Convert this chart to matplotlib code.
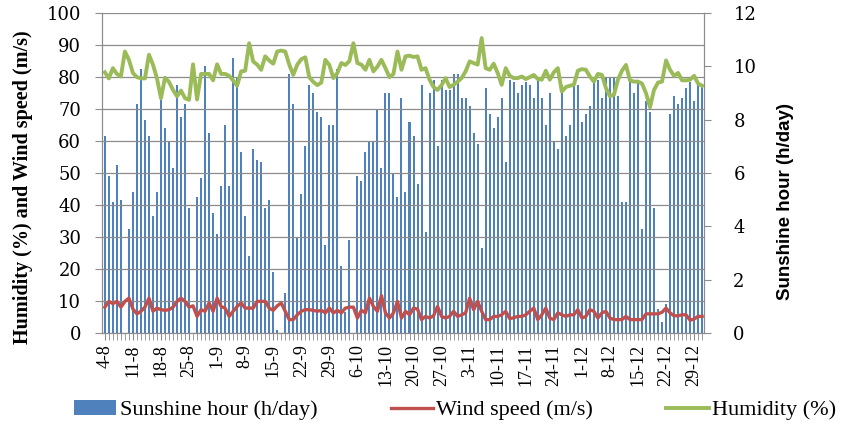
import matplotlib
matplotlib.use("Agg")
import matplotlib.pyplot as plt
from matplotlib.ticker import MultipleLocator

# daily values, 4 Aug -> 31 Dec
sunshine = [
    7.4, 5.9, 4.9, 6.3, 5.0, 0.0, 3.9, 5.3, 8.6, 9.9,
    8.0, 7.4, 4.4, 5.3, 8.75, 7.7, 7.2, 6.2, 9.3, 8.1,
    8.6, 4.7, 0.0, 5.1, 5.8, 10.0, 7.5, 4.5, 3.7, 5.5,
    7.8, 5.5, 10.3, 9.6, 6.8, 4.4, 2.9, 6.9, 6.5, 6.4,
    4.7, 5.0, 2.3, 0.1, 0.0, 1.5, 9.7, 8.6, 3.6, 5.2,
    7.0, 9.3, 9.0, 8.3, 8.1, 3.3, 7.8, 7.8, 9.9, 2.5,
    0.8, 3.5, 0.0, 5.9, 5.7, 6.8, 7.2, 7.2, 8.4, 6.2,
    9.0, 9.0, 6.0, 5.1, 8.8, 5.3, 7.9, 7.4, 5.6, 9.3,
    3.8, 9.0, 9.5, 7.0, 9.5, 9.1, 9.1, 9.7, 9.7, 8.8,
    8.8, 8.5, 7.5, 7.1, 3.2, 9.2, 8.2, 7.7, 8.1, 8.8,
    6.4, 9.5, 9.4, 9.0, 9.3, 9.4, 9.3, 8.8, 9.6, 8.8,
    7.8, 9.0, 7.2, 6.9, 9.3, 7.4, 7.8, 9.3, 9.3, 7.9,
    8.2, 8.5, 9.5, 9.5, 8.8, 9.6, 9.6, 9.6, 8.9, 4.9,
    4.9, 9.4, 9.0, 9.5, 3.9, 8.7, 8.3, 4.7, 0.9, 0.4,
    1.1, 8.2, 8.9, 8.6, 8.8, 9.2, 9.4, 8.7, 9.3, 9.3,
]

humidity = [
    81.5, 79.6, 82.8, 81.0, 80.2, 88.0, 85.4, 81.3, 80.0, 79.6,
    79.6, 87.0, 83.9, 79.6, 73.4, 79.8, 78.5, 76.0, 74.0, 75.8,
    73.4, 72.9, 84.0, 73.0, 81.0, 81.0, 81.0, 79.0, 84.0, 81.0,
    81.0, 80.4, 79.0, 77.3, 81.8, 82.0, 90.6, 84.9, 83.9, 82.3,
    86.5, 85.2, 84.2, 88.0, 88.3, 88.0, 83.9, 80.7, 83.9, 85.6,
    86.2, 80.0, 78.5, 77.5, 78.3, 85.4, 83.8, 79.7, 81.3, 84.4,
    83.8, 85.0, 90.6, 84.4, 83.9, 82.3, 85.4, 81.8, 83.3, 85.4,
    82.8, 80.0, 81.0, 88.0, 82.3, 86.5, 86.7, 86.3, 86.5, 82.3,
    82.8, 79.2, 76.9, 76.0, 77.5, 79.7, 76.9, 77.6, 78.6, 79.7,
    81.8, 84.9, 84.4, 83.9, 92.2, 82.8, 82.3, 84.2, 81.3, 77.6,
    82.8, 80.4, 79.7, 79.7, 80.2, 79.4, 80.0, 80.7, 79.4, 79.2,
    82.0, 79.2, 81.5, 82.8, 75.5, 76.9, 77.3, 77.6, 82.0, 82.5,
    82.3, 80.2, 78.6, 81.0, 80.7, 76.6, 74.0, 74.5, 79.2, 82.0,
    83.8, 79.0, 78.6, 78.6, 78.0, 75.0, 70.6, 76.0, 78.3, 78.6,
    85.2, 82.3, 80.4, 81.3, 79.0, 79.0, 79.2, 80.4, 78.0, 77.3,
]

wind = [
    8.1, 9.9, 9.2, 9.9, 8.1, 9.9, 10.9, 7.5, 6.0, 6.8,
    8.1, 10.9, 6.8, 7.8, 7.3, 7.1, 7.3, 8.1, 9.9, 10.9,
    9.9, 8.1, 8.5, 5.2, 7.3, 6.8, 9.4, 6.8, 10.9, 8.3,
    7.8, 5.2, 6.8, 8.3, 9.4, 7.8, 7.8, 7.8, 9.9, 9.9,
    9.9, 7.8, 7.1, 8.5, 9.4, 6.8, 4.2, 4.2, 5.7, 6.8,
    7.3, 7.3, 7.1, 6.8, 7.1, 6.3, 7.8, 6.3, 7.1, 6.3,
    7.8, 8.1, 8.1, 4.7, 7.1, 6.3, 10.9, 8.3, 6.8, 11.7,
    6.3, 4.7, 6.3, 9.9, 4.7, 6.8, 5.7, 7.8, 7.5, 4.2,
    5.2, 4.7, 5.4, 8.3, 5.2, 4.7, 5.2, 6.8, 5.2, 5.7,
    6.3, 10.9, 7.3, 9.9, 6.8, 4.2, 4.2, 5.2, 5.2, 5.7,
    6.8, 4.5, 4.8, 5.2, 5.2, 5.7, 6.8, 7.8, 4.2, 5.7,
    7.8, 4.7, 4.2, 6.3, 5.7, 5.2, 5.7, 5.7, 7.3, 4.7,
    5.2, 7.3, 6.8, 4.7, 6.3, 6.8, 4.7, 4.2, 4.2, 4.2,
    5.2, 4.2, 4.2, 4.2, 4.2, 6.0, 6.0, 6.0, 6.0, 6.5,
    7.8, 6.3, 5.4, 5.4, 5.7, 5.7, 4.0, 4.4, 5.2, 5.2,
]

tick_labels = ["4-8", "11-8", "18-8", "25-8", "1-9", "8-9", "15-9", "22-9",
               "29-9", "6-10", "13-10", "20-10", "27-10", "3-11", "10-11",
               "17-11", "24-11", "1-12", "8-12", "15-12", "22-12", "29-12"]

days = list(range(len(sunshine)))

fig = plt.figure(figsize=(8.54, 4.24), dpi=100)
ax = fig.add_axes([0.1195, 0.2145, 0.705, 0.7545])
ax2 = ax.twinx()

ax2.bar(days, sunshine, width=0.5, color="#4F81BD", linewidth=0,
        label="Sunshine hour (h/day)")
ax.plot(days, wind, color="#C0504D", lw=2.4, label="Wind speed (m/s)")
ax.plot(days, humidity, color="#9BBB59", lw=2.8, label="Humidity (%)")

# lines on top of the bars
ax.set_zorder(ax2.get_zorder() + 1)
ax.patch.set_visible(False)

ax.set_xlim(-0.7, 149.5)
ax.set_ylim(0, 100)
ax2.set_ylim(0, 12)
ax.yaxis.set_major_locator(MultipleLocator(10))
ax2.yaxis.set_major_locator(MultipleLocator(2))
ax.grid(axis="y", color="#8c8c8c", lw=0.9)
ax.set_axisbelow(True)

ax.set_xticks(days[::7])
ax.set_xticklabels(tick_labels, rotation=90, fontsize=13, family="Liberation Serif")
ax.xaxis.set_minor_locator(MultipleLocator(1))
ax.tick_params(axis="x", which="both", length=5, color="#8c8c8c", pad=3)

for a in (ax, ax2):
    for s in a.spines.values():
        s.set_color("#8c8c8c")
    a.spines["top"].set_visible(False)
ax.tick_params(axis="y", length=5, color="#8c8c8c", labelsize=13, pad=10)
ax2.tick_params(axis="y", length=5, color="#8c8c8c", labelsize=13, pad=16)
for lab in ax.get_yticklabels() + ax2.get_yticklabels():
    lab.set_family("DejaVu Serif")

ax.set_ylabel("Humidity (%) and Wind speed (m/s)", fontsize=14.5, fontweight="bold",
              family="Liberation Serif")
ax.yaxis.set_label_coords(-0.115, 0.456)
ax2.set_ylabel("Sunshine hour (h/day)", fontsize=13.5, fontweight="bold",
               family=["Liberation Sans Narrow", "Liberation Sans"])
ax2.yaxis.set_label_coords(1.121, 0.41)

h2, l2 = ax2.get_legend_handles_labels()
h1, l1 = ax.get_legend_handles_labels()
fig.legend(h2 + h1, l2 + l1, loc="center", bbox_to_anchor=(0.533, 0.033), ncol=3,
           frameon=False, prop={"family": "Liberation Serif", "size": 16},
           handlelength=1.9, handletextpad=0.15, columnspacing=3.3)

fig.savefig("out.png", dpi=100)
